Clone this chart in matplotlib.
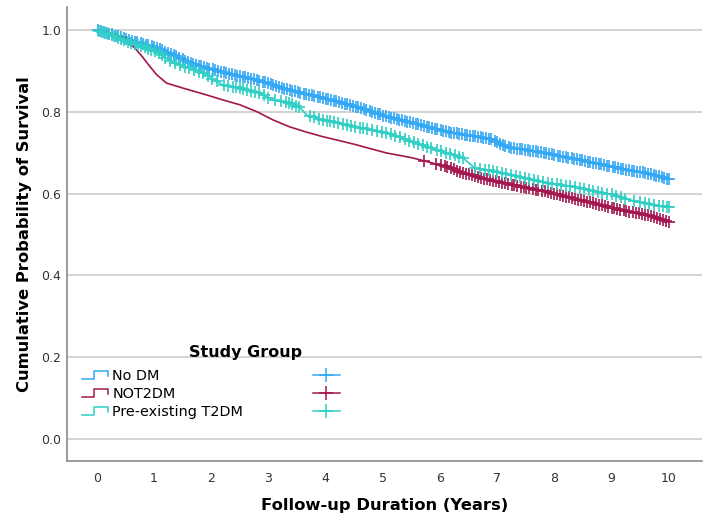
import numpy as np
import matplotlib
matplotlib.use("Agg")
import matplotlib.pyplot as plt
from matplotlib.lines import Line2D
from matplotlib.legend_handler import HandlerBase

groups = ["No DM", "NOT2DM", "Pre-existing T2DM"]
colors = ["#33a8f5", "#a3174f", "#2fcfc5"]

# Kaplan-Meier estimates (years, survival)
nodm_t = [0, 0.25, 0.45, 0.75, 1.05, 1.35, 1.63, 1.9, 2.2, 2.5, 2.8, 3.1, 3.37, 3.65,
          3.95, 4.25, 4.54, 4.8, 5.07, 5.3, 5.52, 5.8, 6.12, 6.4, 6.7, 6.9, 7.05, 7.17,
          7.5, 7.87, 8.15, 8.44, 8.75, 9.02, 9.3, 9.6, 9.8, 10.0]
nodm_s = [1.0, 0.99, 0.98, 0.968, 0.956, 0.938, 0.919, 0.908, 0.897, 0.887, 0.878, 0.864,
          0.853, 0.843, 0.834, 0.823, 0.812, 0.80, 0.788, 0.78, 0.773, 0.762, 0.751, 0.744,
          0.738, 0.733, 0.722, 0.714, 0.706, 0.699, 0.69, 0.682, 0.673, 0.665, 0.657, 0.65,
          0.643, 0.635]

not2dm_t = [0, 0.3, 0.5, 0.58, 0.7, 0.8, 0.92, 1.05, 1.22, 1.5, 1.92, 2.2, 2.5, 2.8, 3.08,
            3.37, 3.67, 3.95, 4.25, 4.54, 4.8, 5.07, 5.3, 5.52, 5.8, 6.12, 6.4, 6.7, 7.0,
            7.27, 7.57, 7.87, 8.15, 8.44, 8.75, 9.02, 9.3, 9.6, 9.8, 10.0]
not2dm_s = [1.0, 0.99, 0.98, 0.968, 0.95, 0.934, 0.912, 0.89, 0.87, 0.858, 0.841, 0.829,
            0.817, 0.80, 0.78, 0.763, 0.75, 0.739, 0.729, 0.719, 0.709, 0.699, 0.693, 0.687,
            0.677, 0.665, 0.651, 0.638, 0.629, 0.621, 0.612, 0.604, 0.594, 0.584, 0.574,
            0.565, 0.556, 0.548, 0.54, 0.531]

pre_t = [0, 0.25, 0.45, 0.75, 1.05, 1.2, 1.34, 1.63, 1.92, 2.05, 2.2, 2.5, 2.8, 3.08, 3.37,
         3.55, 3.67, 3.95, 4.25, 4.54, 4.8, 5.07, 5.3, 5.52, 5.8, 6.12, 6.4, 6.5, 6.6, 6.9,
         7.27, 7.57, 7.87, 8.15, 8.44, 8.75, 9.02, 9.32, 9.6, 9.8, 10.0]
pre_s = [1.0, 0.988, 0.976, 0.962, 0.946, 0.932, 0.919, 0.907, 0.89, 0.878, 0.866, 0.858,
         0.848, 0.829, 0.822, 0.81, 0.792, 0.78, 0.772, 0.763, 0.755, 0.748, 0.737, 0.726,
         0.714, 0.699, 0.687, 0.675, 0.663, 0.655, 0.645, 0.635, 0.626, 0.62, 0.614, 0.605,
         0.597, 0.584, 0.576, 0.571, 0.567]

# censoring times (approximate positions of the + marks)
nodm_cens = [0.03, 0.08, 0.12, 0.18, 0.22, 0.27, 0.33, 0.37, 0.42, 0.47, 0.52, 0.56, 0.62,
             0.66, 0.71, 0.77, 0.81, 0.86, 0.9, 0.96, 1.0, 1.05, 1.1, 1.14, 1.2, 1.25, 1.29,
             1.35, 1.39, 1.44, 1.5, 1.54, 1.59, 1.64, 1.68, 1.74, 1.79, 1.83, 1.88, 1.93,
             1.97, 2.03, 2.07, 2.12, 2.17, 2.22, 2.26, 2.32, 2.36, 2.41, 2.46, 2.5, 2.56,
             2.6, 2.65, 2.7, 2.75, 2.8, 2.84, 2.9, 2.94, 2.99, 3.04, 3.08, 3.14, 3.18, 3.23,
             3.28, 3.33, 3.37, 3.42, 3.47, 3.52, 3.56, 3.62, 3.66, 3.71, 3.76, 3.8, 3.86,
             3.9, 3.95, 4.0, 4.04, 4.1, 4.14, 4.19, 4.24, 4.28, 4.34, 4.38, 4.43, 4.48, 4.53,
             4.57, 4.62, 4.67, 4.71, 4.77, 4.81, 4.86, 4.91, 4.95, 5.01, 5.05, 5.1, 5.15,
             5.2, 5.24, 5.29, 5.34, 5.39, 5.43, 5.48, 5.53, 5.58, 5.62, 5.67, 5.72, 5.77,
             5.81, 5.86, 5.91, 5.95, 6.01, 6.05, 6.1, 6.15, 6.2, 6.24, 6.29, 6.34, 6.38,
             6.43, 6.48, 6.53, 6.57, 6.62, 6.67, 6.72, 6.76, 6.81, 6.86, 6.9, 6.96, 7.0,
             7.05, 7.1, 7.14, 7.2, 7.24, 7.29, 7.34, 7.39, 7.43, 7.48, 7.53, 7.58, 7.62,
             7.67, 7.72, 7.76, 7.82, 7.86, 7.91, 7.96, 8.0, 8.06, 8.1, 8.15, 8.2, 8.24, 8.3,
             8.34, 8.39, 8.44, 8.48, 8.54, 8.58, 8.63, 8.68, 8.72, 8.78, 8.82, 8.87, 8.92,
             8.96, 9.02, 9.06, 9.11, 9.16, 9.2, 9.26, 9.3, 9.35, 9.4, 9.44, 9.5, 9.54, 9.59,
             9.64, 9.68, 9.74, 9.78, 9.83, 9.88, 9.92, 9.97, 10.0]
not2dm_cens = [5.72, 5.93, 6.02, 6.08, 6.13, 6.19, 6.24, 6.3, 6.35, 6.41, 6.46, 6.5, 6.56,
               6.61, 6.66, 6.72, 6.77, 6.82, 6.88, 6.93, 6.98, 7.03, 7.09, 7.14, 7.19, 7.25,
               7.3, 7.35, 7.41, 7.46, 7.51, 7.56, 7.62, 7.67, 7.72, 7.78, 7.83, 7.88, 7.94,
               7.99, 8.04, 8.09, 8.15, 8.2, 8.25, 8.31, 8.36, 8.41, 8.47, 8.52, 8.57, 8.62,
               8.68, 8.73, 8.78, 8.84, 8.89, 8.94, 9.0, 9.05, 9.1, 9.15, 9.21, 9.26, 9.31,
               9.37, 9.42, 9.47, 9.53, 9.58, 9.63, 9.68, 9.74, 9.79, 9.84, 9.9, 9.95, 10.0]
pre_cens = [0.04, 0.09, 0.14, 0.2, 0.26, 0.31, 0.37, 0.43, 0.48, 0.55, 0.6, 0.66, 0.72,
            0.78, 0.84, 0.9, 0.95, 1.02, 1.08, 1.14, 1.2, 1.28, 1.36, 1.45, 1.55, 1.62, 1.7,
            1.78, 1.85, 1.95, 2.02, 2.1, 2.22, 2.3, 2.38, 2.44, 2.5, 2.56, 2.62, 2.7, 2.76,
            2.84, 2.92, 3.0, 3.12, 3.22, 3.3, 3.36, 3.42, 3.48, 3.53, 3.72, 3.8, 3.88, 3.95,
            4.02, 4.08, 4.15, 4.22, 4.3, 4.38, 4.45, 4.52, 4.6, 4.66, 4.73, 4.82, 4.9, 4.98,
            5.06, 5.14, 5.22, 5.3, 5.38, 5.46, 5.54, 5.62, 5.7, 5.78, 5.85, 5.94, 6.02, 6.1,
            6.18, 6.26, 6.33, 6.4, 6.62, 6.7, 6.78, 6.85, 6.93, 7.0, 7.08, 7.16, 7.24, 7.32,
            7.4, 7.48, 7.56, 7.64, 7.72, 7.8, 7.88, 7.96, 8.04, 8.12, 8.2, 8.28, 8.36, 8.44,
            8.52, 8.6, 8.68, 8.76, 8.84, 8.92, 9.0, 9.08, 9.16, 9.24, 9.4, 9.5, 9.58, 9.66,
            9.74, 9.82, 9.9, 9.96, 10.0]

curves = [(nodm_t, nodm_s, nodm_cens), (not2dm_t, not2dm_s, not2dm_cens),
          (pre_t, pre_s, pre_cens)]

fig = plt.figure(figsize=(7.1, 5.25), dpi=100)
ax = fig.add_axes([67 / 710, 64 / 525, 635 / 710, 454 / 525])

for (t, s, c), col in zip(curves, colors):
    t = np.array(t)
    s = np.array(s)
    ax.plot(t, s, color=col, lw=1.2, zorder=3)
    cy = np.interp(c, t, s)
    ax.plot(c, cy, ls="none", marker="+", ms=8, mew=1.4, color=col, alpha=0.85, zorder=3)

ax.set_xlim(-0.52, 10.58)
ax.set_ylim(-0.054, 1.056)
ax.set_xticks(range(0, 11))
ax.set_yticks([0.0, 0.2, 0.4, 0.6, 0.8, 1.0])
ax.set_yticklabels(["0.0", "0.2", "0.4", "0.6", "0.8", "1.0"])
ax.yaxis.grid(True, color="#d0d0d0", lw=1.3)
ax.set_axisbelow(True)
for sp in ["top", "right"]:
    ax.spines[sp].set_visible(False)
for sp in ["left", "bottom"]:
    ax.spines[sp].set_color("#8a8a8a")
    ax.spines[sp].set_linewidth(1.2)
ax.tick_params(axis="both", length=0, labelsize=9, labelcolor="#333333")
ax.tick_params(axis="x", pad=8)
ax.tick_params(axis="y", pad=4)

ax.set_xlabel("Follow-up Duration (Years)", fontsize=11.8, fontweight="bold")
ax.set_ylabel("Cumulative Probability of Survival", fontsize=11.8, fontweight="bold")
ax.xaxis.set_label_coords(0.5, -0.082)
ax.yaxis.set_label_coords(-0.055, 0.5)


class StepHandler(HandlerBase):
    def create_artists(self, legend, orig_handle, xd, yd, w, h, fontsize, trans):
        xs = np.array([0, 0.45, 0.45, 1.0, 1.0]) * w - xd
        ys = np.array([0.1, 0.1, 0.85, 0.85, 0.4]) * h - yd
        ln = Line2D(xs, ys, color=orig_handle.get_color(), lw=1.1, transform=trans)
        return [ln]


step_handles = [Line2D([], [], color=c) for c in colors]
leg1 = ax.legend(step_handles, groups, handler_map={Line2D: StepHandler()},
                 loc="upper left", bbox_to_anchor=(82 / 710, 1 - 369 / 525),
                 bbox_transform=fig.transFigure, frameon=False, fontsize=10.4,
                 borderpad=0, borderaxespad=0, handlelength=1.8, handleheight=0.7,
                 handletextpad=0.3, labelspacing=0.27)
ax.add_artist(leg1)

cens_handles = [Line2D([], [], color=c, lw=1.1, marker="+", ms=9.5, mew=1.1) for c in colors]
ax.legend(cens_handles, ["", "", ""], loc="upper left",
          bbox_to_anchor=(313 / 710, 1 - 369 / 525), bbox_transform=fig.transFigure,
          frameon=False, fontsize=10.4, borderpad=0, borderaxespad=0, handlelength=1.85,
          handleheight=0.7, handletextpad=0, labelspacing=0.27)

fig.text(246 / 710, 1 - 352 / 525, "Study Group", fontsize=11.5, fontweight="bold",
         ha="center", va="center")

fig.savefig("out.png", dpi=100)
